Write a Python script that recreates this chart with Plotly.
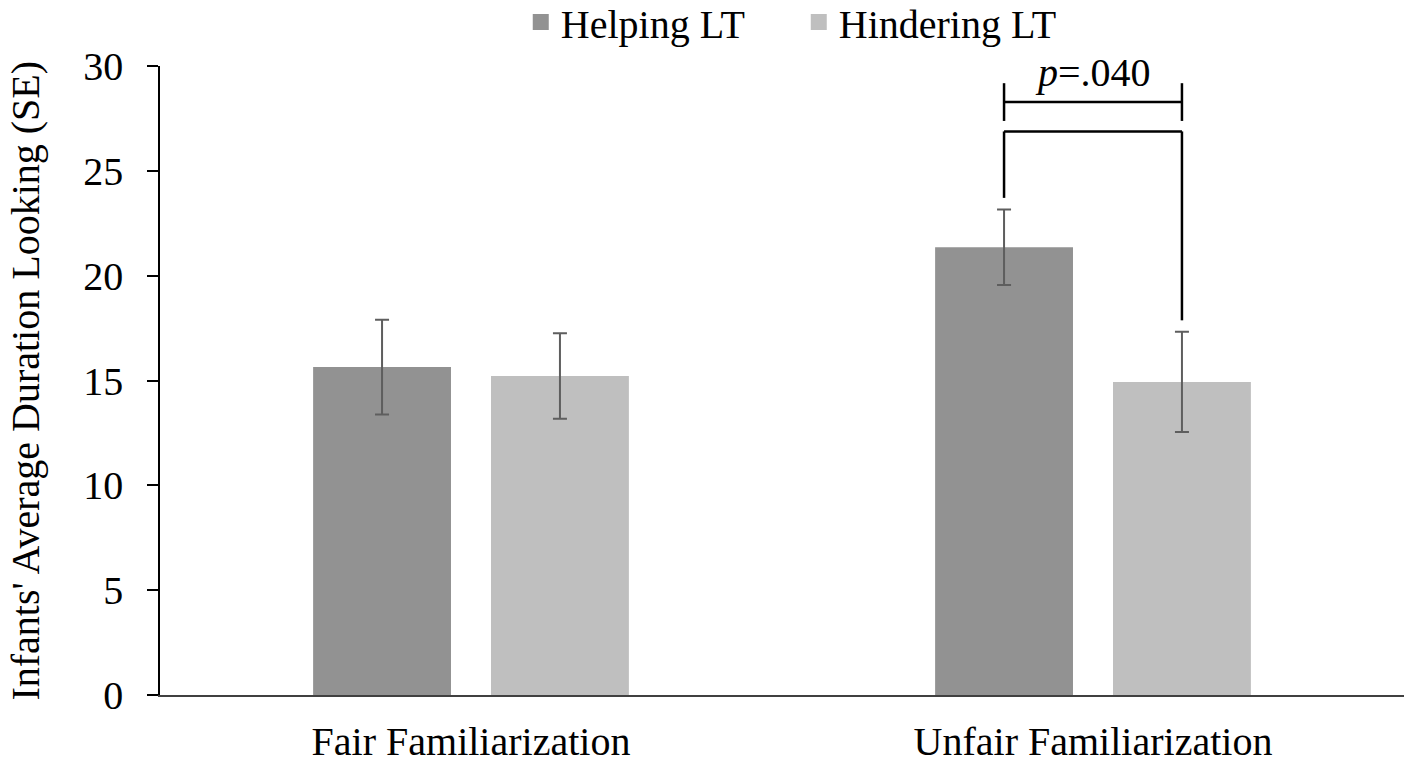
import plotly.graph_objects as go

categories = ["Fair Familiarization", "Unfair Familiarization"]
series_names = ["Helping LT", "Hindering LT"]
series_colors = ["#929292", "#bfbfbf"]
helping = [15.64, 21.36]
helping_se = [2.26, 1.80]
hindering = [15.21, 14.93]
hindering_se = [2.04, 2.39]
p_label = "<i>p</i>=.040"
y_title = "Infants' Average Duration Looking (SE)"
y_ticks = [0, 5, 10, 15, 20, 25, 30]

FONT = "Liberation Serif, Times New Roman, serif"
FS = 40
BARGAP = 0.428
BARGROUPGAP = 0.225
ERR_COLOR = "#5e5e5e"

fig = go.Figure()
fig.add_trace(go.Bar(
    x=categories, y=helping, name=series_names[0], showlegend=False,
    marker=dict(color=series_colors[0], line=dict(width=0)),
    error_y=dict(type="data", array=helping_se, color=ERR_COLOR, thickness=2, width=7),
))
fig.add_trace(go.Bar(
    x=categories, y=hindering, name=series_names[1], showlegend=False,
    marker=dict(color=series_colors[1], line=dict(width=0)),
    error_y=dict(type="data", array=hindering_se, color=ERR_COLOR, thickness=2, width=7),
))
# legend entries (square swatches)
for name, col in zip(series_names, series_colors):
    fig.add_trace(go.Scatter(x=[None], y=[None], mode="markers", name=name,
                             marker=dict(symbol="square", size=16, color=col), hoverinfo="skip"))

# significance bracket between Unfair Helping and Unfair Hindering
offset = (1 - BARGAP) / 4
xl = 1 - offset
xr = 1 + offset
left_top = helping[1] + helping_se[1]
right_top = hindering[1] + hindering_se[1]
bracket_y = 26.88
gap = 0.55
line = dict(color="black", width=2.5)
fig.add_shape(type="line", xref="x", yref="y", x0=xl, x1=xl, y0=left_top + gap, y1=bracket_y, line=line)
fig.add_shape(type="line", xref="x", yref="y", x0=xl, x1=xr, y0=bracket_y, y1=bracket_y, line=line)
fig.add_shape(type="line", xref="x", yref="y", x0=xr, x1=xr, y0=right_top + gap, y1=bracket_y, line=line)
# upper small bracket
top_y = 28.28
fig.add_shape(type="line", xref="x", yref="y", x0=xl, x1=xr, y0=top_y, y1=top_y, line=line)
fig.add_shape(type="line", xref="x", yref="y", x0=xl, x1=xl, y0=top_y - 0.9, y1=top_y + 0.9, line=line)
fig.add_shape(type="line", xref="x", yref="y", x0=xr, x1=xr, y0=top_y - 0.9, y1=top_y + 0.9, line=line)
fig.add_annotation(x=1, y=top_y + 1.4, xref="x", yref="y", text=p_label, showarrow=False,
                   yanchor="middle", font=dict(family=FONT, size=FS, color="black"))

# y-axis title as rotated annotation
fig.add_annotation(x=-0.1085, y=0.5, xref="paper", yref="paper", text=y_title, showarrow=False,
                   textangle=-90, xanchor="center", yanchor="middle",
                   font=dict(family=FONT, size=FS, color="black"))

fig.update_layout(
    width=1413, height=764, autosize=False,
    margin=dict(l=160, r=9, t=66, b=69, autoexpand=False),
    paper_bgcolor="white", plot_bgcolor="white",
    barmode="group", bargap=BARGAP, bargroupgap=BARGROUPGAP,
    font=dict(family=FONT, size=FS, color="black"),
    showlegend=True,
    legend=dict(orientation="h", x=0.29, xanchor="left", y=1.070, yanchor="middle",
                font=dict(family=FONT, size=FS, color="black"), itemsizing="trace",
                entrywidth=233, entrywidthmode="pixels", bgcolor="rgba(0,0,0,0)"),
)
fig.update_xaxes(
    showline=True, linecolor="#404040", linewidth=2, ticks="", showgrid=False,
    tickfont=dict(family=FONT, size=FS, color="black"), ticklabelstandoff=10,
)
fig.update_yaxes(
    range=[0, 30], tickvals=y_ticks, showline=True, linecolor="black", linewidth=1.5,
    ticks="outside", ticklen=11, tickwidth=1.5, tickcolor="black", showgrid=False, zeroline=False,
    tickfont=dict(family=FONT, size=FS, color="black"), ticklabelstandoff=16,
)

fig.write_html("out.html", config={"displayModeBar": False},
               post_script="document.body.style.margin='0';")
